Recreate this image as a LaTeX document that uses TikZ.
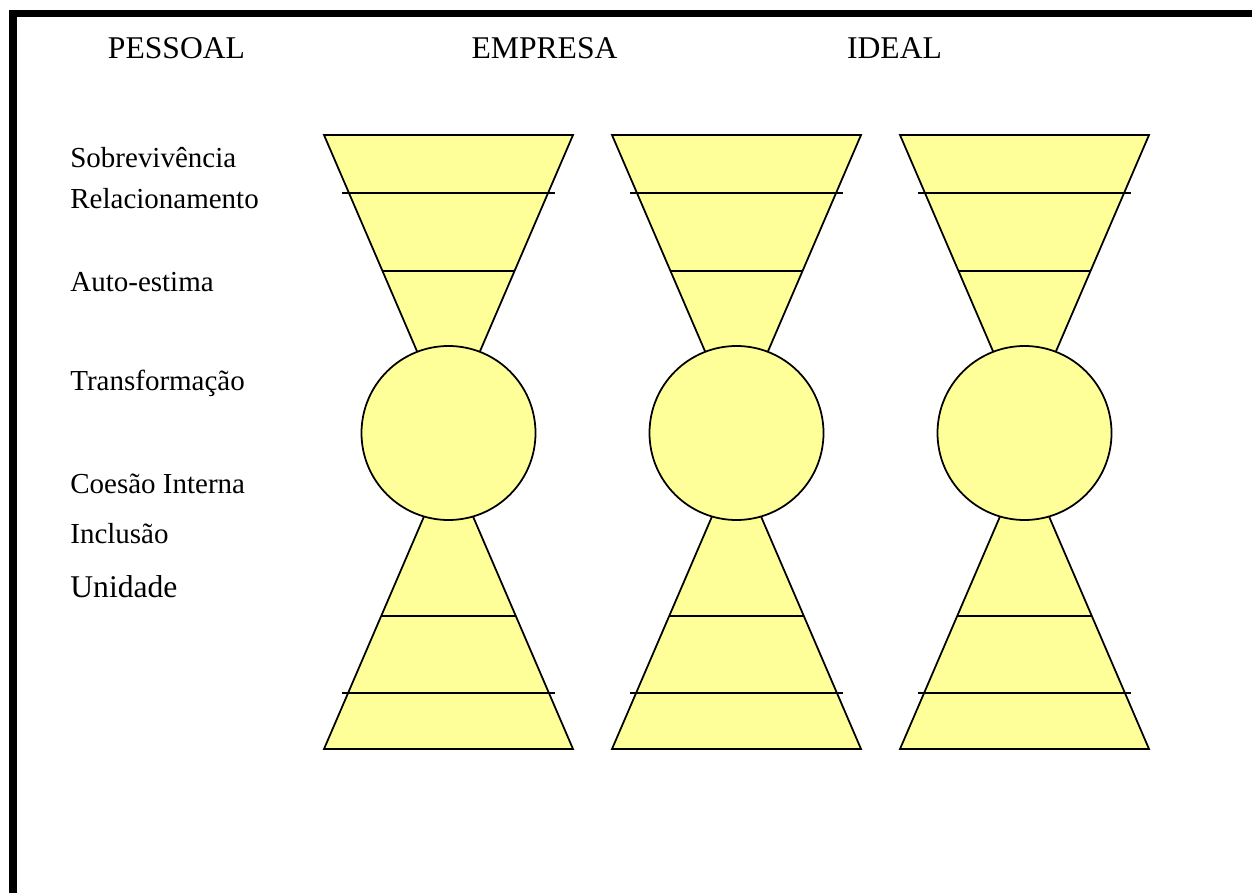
\documentclass[tikz,border=0pt]{standalone}
\usepackage{fontspec}
\setmainfont{Liberation Serif}
\definecolor{paleyellow}{RGB}{255,255,153}

\begin{document}
\begin{tikzpicture}[
    hourglass/.style={draw=black, fill=paleyellow, line width=1pt},
    band/.style={black, line width=1pt},
    lvl/.style={anchor=base west, inner sep=0pt, font=\fontsize{16.5}{20}\selectfont},
    colhead/.style={anchor=base, inner sep=0pt, font=\fontsize{18}{22}\selectfont}]
    \useasboundingbox (0,0) rectangle (25.04,17.86);

    % Frame, top and left side only
    \draw[line width=4.4pt] (0.26,0) -- (0.26,17.59) -- (25.04,17.59);

    % Column headers
    \node[colhead] (pessoal) at (3.53,16.69) {PESSOAL};
    \node[colhead] (empresa) at (10.89,16.69) {EMPRESA};
    \node[colhead] (ideal) at (17.89,16.69) {IDEAL};

    % Levels
    \node[lvl] (sobrev) at (1.4,14.5) {Sobrevivência};
    \node[lvl] (relac) at (1.4,13.68) {Relacionamento};
    \node[lvl] (autoest) at (1.4,12.02) {Auto-estima};
    \node[lvl] (transf) at (1.4,10.06) {Transformação};
    \node[lvl] (coesao) at (1.4,8.0) {Coesão Interna};
    \node[lvl] (inclus) at (1.4,7.0) {Inclusão};
    \node[lvl, font=\fontsize{18}{22}\selectfont] (unid) at (1.4,5.92) {Unidade};

    % Hourglasses
    \foreach \c in {8.97,14.73,20.49} {
        \draw[hourglass] (\c-2.49,15.16) -- (\c+2.49,15.16) -- (\c,9.37) -- cycle;
        \draw[hourglass] (\c-2.49,2.88) -- (\c+2.49,2.88) -- (\c,8.67) -- cycle;
        \draw[band] (\c-2.13,14.0) -- (\c+2.13,14.0);
        \draw[band] (\c-1.33,12.44) -- (\c+1.33,12.44);
        \draw[band] (\c-1.35,5.54) -- (\c+1.35,5.54);
        \draw[band] (\c-2.13,4.0) -- (\c+2.13,4.0);
        \draw[hourglass] (\c,9.2) circle (1.74);
    }
\end{tikzpicture}
\end{document}
